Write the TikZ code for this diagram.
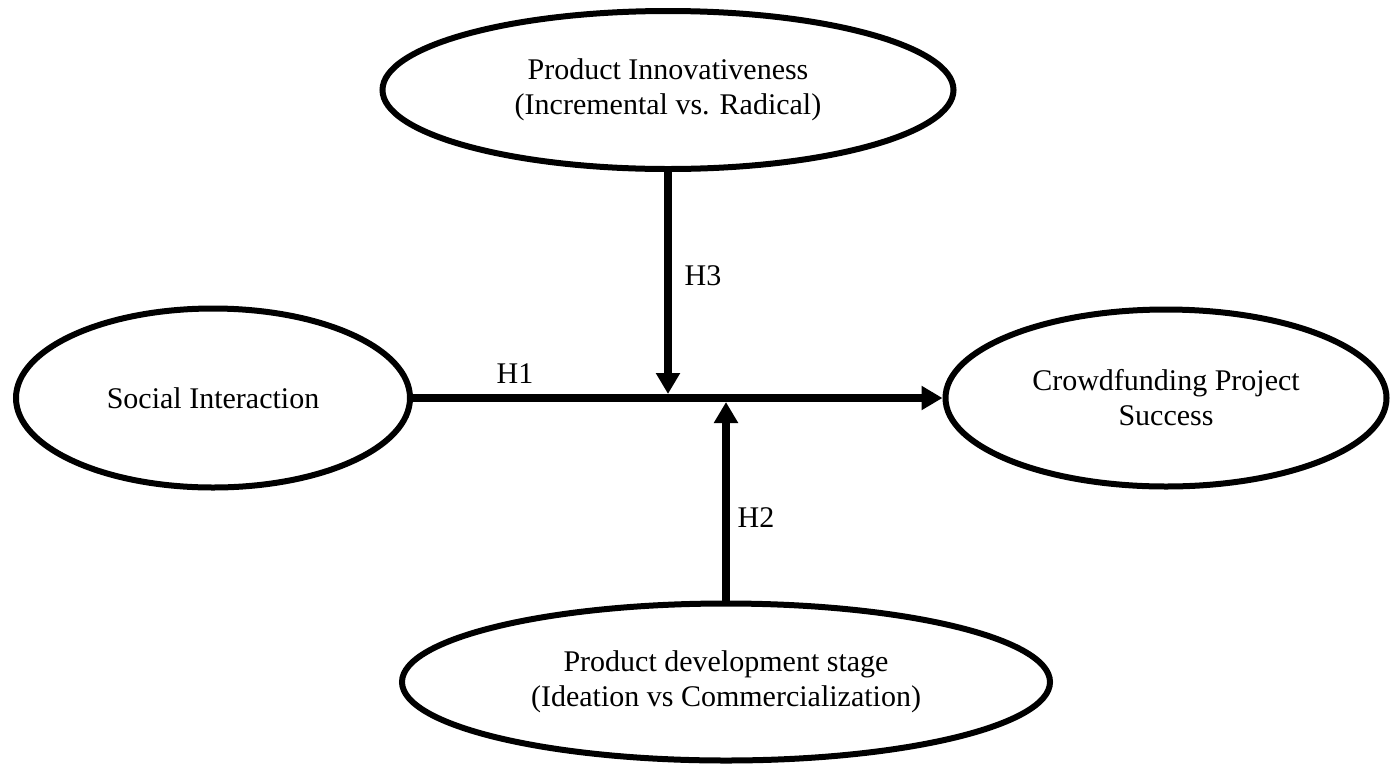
\documentclass[tikz,border=0pt]{standalone}
\usepackage{fontspec}
\setmainfont{Liberation Serif}
\usetikzlibrary{arrows.meta,shapes.geometric}
\tikzset{
  construct/.style={draw, ellipse, line width=6pt, inner sep=0pt, align=center,
    font=\fontsize{30}{35}\selectfont},
  patharrow/.style={-{Triangle[width=23pt,length=21pt]}, line width=8pt},
  hyplabel/.style={font=\fontsize{30}{35}\selectfont, inner sep=0pt}
}

\begin{document}
\begin{tikzpicture}[x=1pt,y=-1pt]
  \useasboundingbox (0,0) rectangle (1392,764);

  \node[construct, minimum width=571pt, minimum height=158pt] (innov) at (668,90)
    {Product Innovativeness\\(Incremental vs. Radical)};
  \node[construct, minimum width=394pt, minimum height=179pt] (social) at (213,398)
    {Social Interaction};
  \node[construct, minimum width=441pt, minimum height=177pt] (success) at (1166,398)
    {Crowdfunding Project\\Success};
  \node[construct, minimum width=648pt, minimum height=157pt] (stage) at (726,682)
    {Product development stage\\(Ideation vs Commercialization)};

  % moderating effects meet the main path
  \coordinate (h3end) at (innov.south |- 0,394);
  \coordinate (h2end) at (stage.north |- 0,402);

  \draw[patharrow] (social) -- (success);
  \draw[patharrow] (innov.south) -- (h3end);
  \draw[patharrow] (stage.north) -- (h2end);

  \node[hyplabel] (h1) at (515,374) {H1};
  \node[hyplabel] (h3) at (703,276) {H3};
  \node[hyplabel] (h2) at (756,518) {H2};
\end{tikzpicture}
\end{document}
